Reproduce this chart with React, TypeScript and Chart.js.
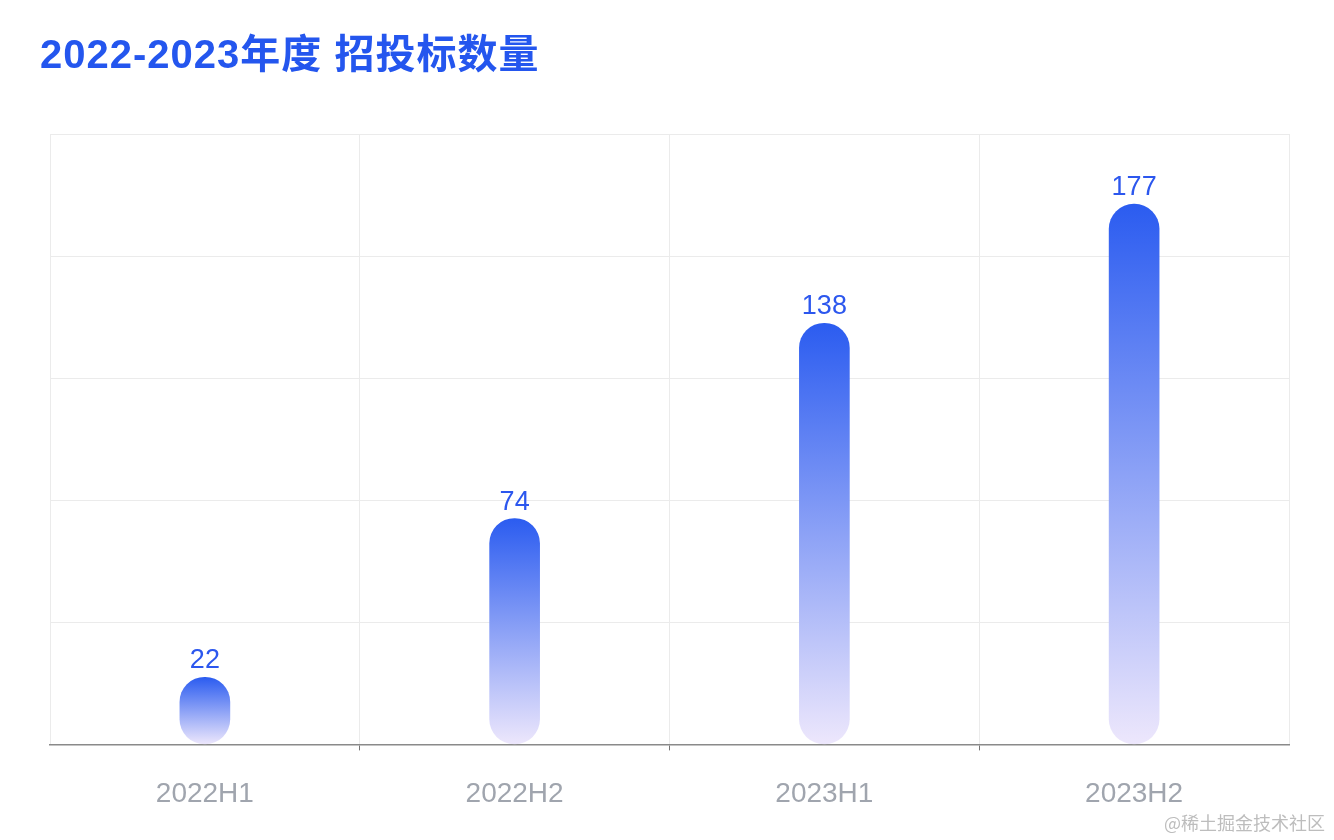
import React, { useEffect, useRef } from "react";
import { Chart, registerables } from "chart.js";

Chart.register(...registerables);

const categories = ["2022H1", "2022H2", "2023H1", "2023H2"];
const counts = [22, 74, 138, 177];
const titleText = "2022-2023年度 招投标数量";
const watermark = "@稀土掘金技术社区";

const overlayPlugin = {
  id: "overlay",
  afterDatasetsDraw(chart: any) {
    const ctx = chart.ctx;
    const meta = chart.getDatasetMeta(0);
    ctx.save();
    ctx.font = "27px 'Liberation Sans', Arial, sans-serif";
    ctx.fillStyle = "#2c57ee";
    ctx.textAlign = "center";
    ctx.textBaseline = "alphabetic";
    meta.data.forEach((bar: any, i: number) => {
      ctx.fillText(String(counts[i]), bar.x, bar.y - 9);
    });
    ctx.restore();
  },
  afterDraw(chart: any) {
    const ctx = chart.ctx;
    ctx.save();
    ctx.font = "bold 40px 'Liberation Sans', 'Noto Sans CJK SC', sans-serif";
    ctx.fillStyle = "#2456ee";
    ctx.textAlign = "left";
    ctx.textBaseline = "alphabetic";
    try { (ctx as any).letterSpacing = "1px"; } catch (e) {}
    ctx.fillText(titleText, 40, 68);
    try { (ctx as any).letterSpacing = "0px"; } catch (e) {}
    ctx.font = "18px 'Noto Sans CJK SC', sans-serif";
    ctx.fillStyle = "#bdbdbd";
    ctx.textAlign = "right";
    ctx.fillText(watermark, 1325, 830);
    ctx.restore();
  },
};

export default function App() {
  const ref = useRef<HTMLCanvasElement>(null);
  useEffect(() => {
    if (!ref.current) return;
    const chart = new Chart(ref.current, {
      type: "bar",
      data: {
        labels: categories,
        datasets: [
          {
            data: counts,
            barThickness: 50,
            borderRadius: 25,
            borderSkipped: false,
            backgroundColor: (c: any) => {
              const ch = c.chart;
              if (!ch.chartArea || !ch.scales.y) return "#2b5cf0";
              const v = c.parsed ? c.parsed.y : counts[c.dataIndex];
              const yTop = ch.scales.y.getPixelForValue(v);
              const yBot = ch.scales.y.getPixelForValue(0);
              if (!isFinite(yTop) || !isFinite(yBot) || yTop === yBot) return "#2b5cf0";
              const g = ch.ctx.createLinearGradient(0, yTop, 0, yBot);
              g.addColorStop(0, "#2b5cf0");
              g.addColorStop(1, "#ede7fc");
              return g;
            },
          },
        ],
      },
      options: {
        animation: false,
        responsive: true,
        maintainAspectRatio: false,
        layout: { padding: { left: 50, right: 45, top: 134, bottom: 2 } },
        plugins: {
          legend: { display: false },
          tooltip: { enabled: false },
          title: { display: false },
        },
        scales: {
          x: {
            offset: true,
            grid: {
              offset: true,
              color: "#ebebeb",
              tickColor: (c: any) =>
                c.type === "tick" && c.index > 0 && c.index < categories.length
                  ? "#777777"
                  : "rgba(0,0,0,0)",
              tickLength: 6,
            },
            border: { display: true, color: "#8a8a8a", width: 1.5 },
            ticks: {
              color: "#a0a5ae",
              padding: 27,
              font: { family: "'Liberation Sans', Arial, sans-serif", size: 28 },
            },
          },
          y: {
            min: 0,
            max: 200,
            ticks: { display: false, stepSize: 40 },
            grid: { color: "#ebebeb", drawTicks: false },
            border: { display: false },
          },
        },
      },
      plugins: [overlayPlugin],
    });
    return () => chart.destroy();
  }, []);
  return (
    <div style={{ position: "fixed", left: 0, top: 0, width: 1334, height: 840, background: "#fff" }}>
      <canvas ref={ref} />
    </div>
  );
}
